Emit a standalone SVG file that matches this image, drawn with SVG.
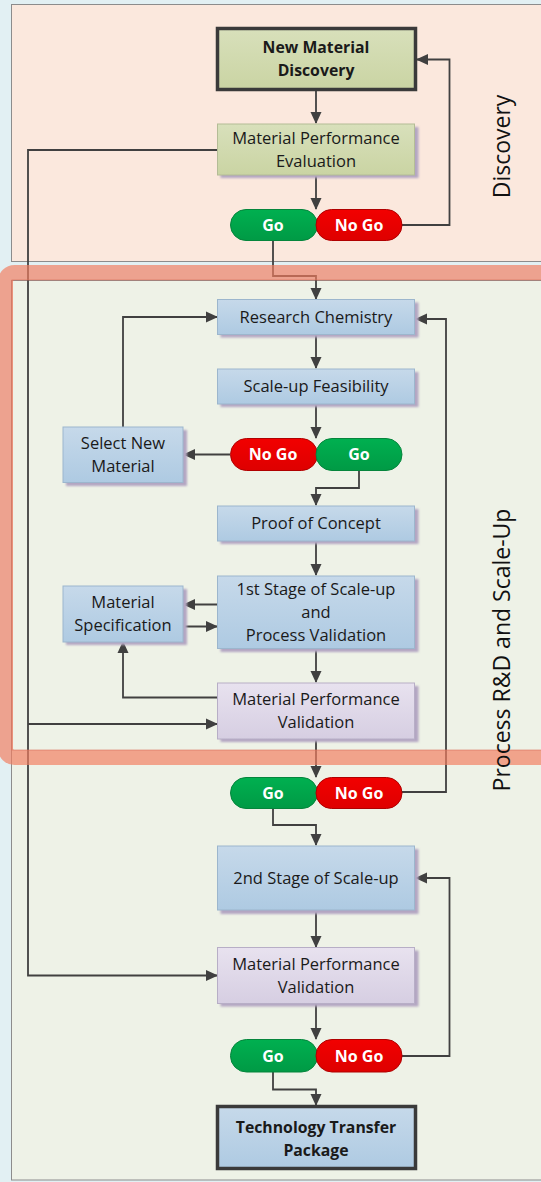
<svg xmlns="http://www.w3.org/2000/svg" width="541" height="1182" viewBox="0 0 541 1182">
<style>
.t{font-family:"Open Sans","Noto Sans","Liberation Sans",sans-serif;font-size:16.5px;fill:#1a1a1a;text-anchor:middle}
.b{font-weight:bold;font-size:15.8px}
.p{font-family:"Open Sans","Noto Sans","Liberation Sans",sans-serif;font-size:16px;font-weight:bold;fill:#ffffff;text-anchor:middle}
.lane{font-family:"Open Sans","Noto Sans","Liberation Sans",sans-serif;font-size:23px;fill:#111;text-anchor:middle}
.ca{fill:none;stroke:#404040;stroke-width:1.8;marker-end:url(#ah)}
.sh{fill:#b3a6c2}
</style>
<defs>
<marker id="ah" markerUnits="userSpaceOnUse" markerWidth="12" markerHeight="12" refX="11" refY="6" orient="auto">
<path d="M0,0.5 L12,6 L0,11.5 z" fill="#404040"/>
</marker>
<linearGradient id="gG" x1="0" y1="0" x2="0" y2="1"><stop offset="0" stop-color="#d8e0bb"/><stop offset="1" stop-color="#cad4a3"/></linearGradient>
<linearGradient id="gB" x1="0" y1="0" x2="0" y2="1"><stop offset="0" stop-color="#c6d9ea"/><stop offset="1" stop-color="#aecae2"/></linearGradient>
<linearGradient id="gP" x1="0" y1="0" x2="0" y2="1"><stop offset="0" stop-color="#e8e2ef"/><stop offset="1" stop-color="#d6cee2"/></linearGradient>
<linearGradient id="gGo" x1="0" y1="0" x2="0" y2="1"><stop offset="0" stop-color="#00b050"/><stop offset="1" stop-color="#009a45"/></linearGradient>
<linearGradient id="gNo" x1="0" y1="0" x2="0" y2="1"><stop offset="0" stop-color="#f20000"/><stop offset="1" stop-color="#de0000"/></linearGradient>
<filter id="blur" x="-10%" y="-10%" width="120%" height="130%"><feGaussianBlur stdDeviation="1"/></filter>
</defs>

<rect x="0" y="0" width="541" height="1182" fill="#e2f0f3"/>
<rect id="lane-discovery" x="11.5" y="4.5" width="560" height="257" fill="#fbe8dd" stroke="#8c8c8c" stroke-width="1"/>
<rect id="lane-process" x="11.5" y="280.5" width="560" height="899.5" fill="#eef2e7" stroke="#8c8c8c" stroke-width="1"/>

<g id="connectors">
<path class="ca" d="M316,91 V123"/>
<path class="ca" d="M316,176 V209"/>
<path class="ca" d="M402,225 H449.5 V59.5 H417"/>
<path class="ca" d="M273,241 V276 H316 V299"/>
<path class="ca" d="M217,150 H28 V975.5 H217"/>
<path class="ca" d="M28,724 H217"/>
<path class="ca" d="M316,334 V368"/>
<path class="ca" d="M316,404 V438"/>
<path class="ca" d="M230,454.5 H184"/>
<path class="ca" d="M123,427 V317 H217"/>
<path class="ca" d="M359,470 V488 H316 V505"/>
<path class="ca" d="M316,541 V575"/>
<path class="ca" d="M217,604.5 H184"/>
<path class="ca" d="M183,626.5 H217"/>
<path class="ca" d="M316,649 V682"/>
<path class="ca" d="M217,697.5 H123 V642"/>
<path class="ca" d="M316,739 V777"/>
<path class="ca" d="M402,792 H446 V319 H416"/>
<path class="ca" d="M273,808 V825 H316 V845"/>
<path class="ca" d="M316,910 V947"/>
<path class="ca" d="M316,1003 V1039"/>
<path class="ca" d="M402,1056 H449.5 V878 H416"/>
<path class="ca" d="M273,1072 V1089.5 H316 V1105"/>
</g>

<g id="n-new-material-discovery">
<rect x="217.5" y="28.5" width="198" height="61" fill="url(#gG)" stroke="#3a3a3a" stroke-width="3.5"/>
<text class="t b" x="316" y="53">New Material</text>
<text class="t b" x="316" y="76">Discovery</text>
</g>
<g id="n-material-performance-evaluation">
<rect class="sh" x="220.5" y="127" width="198" height="51" filter="url(#blur)"/>
<rect x="217.5" y="124" width="197" height="51" fill="url(#gG)" stroke="#b4bc96" stroke-width="1"/>
<text class="t" x="316" y="144">Material Performance</text>
<text class="t" x="316" y="167">Evaluation</text>
</g>
<g id="n-go-1">
<rect x="230.5" y="209.5" width="87" height="31" rx="15.5" fill="url(#gGo)" stroke="#05853c" stroke-width="1"/>
<text class="p" x="273" y="231">Go</text>
</g>
<g id="n-nogo-1">
<rect x="316" y="209.5" width="86" height="31" rx="15.5" fill="url(#gNo)" stroke="#b00000" stroke-width="1"/>
<text class="p" x="359" y="231">No Go</text>
</g>

<g id="n-research-chemistry">
<rect class="sh" x="220.5" y="302.5" width="198" height="35" filter="url(#blur)"/>
<rect x="217.5" y="299.5" width="197" height="35" fill="url(#gB)" stroke="#9cb6cd" stroke-width="1"/>
<text class="t" x="316" y="322.5">Research Chemistry</text>
</g>
<g id="n-scale-up-feasibility">
<rect class="sh" x="220.5" y="372" width="198" height="35" filter="url(#blur)"/>
<rect x="217.5" y="369" width="197" height="35" fill="url(#gB)" stroke="#9cb6cd" stroke-width="1"/>
<text class="t" x="316" y="392">Scale-up Feasibility</text>
</g>
<g id="n-nogo-2">
<rect x="230.5" y="438.5" width="87" height="32" rx="16" fill="url(#gNo)" stroke="#b00000" stroke-width="1"/>
<text class="p" x="273" y="460">No Go</text>
</g>
<g id="n-go-2">
<rect x="316" y="438.5" width="86" height="32" rx="16" fill="url(#gGo)" stroke="#05853c" stroke-width="1"/>
<text class="p" x="359" y="460">Go</text>
</g>
<g id="n-select-new-material">
<rect class="sh" x="66" y="430" width="121" height="56" filter="url(#blur)"/>
<rect x="63" y="427" width="120" height="55.5" fill="url(#gB)" stroke="#9cb6cd" stroke-width="1"/>
<text class="t" x="123" y="449">Select New</text>
<text class="t" x="123" y="472">Material</text>
</g>
<g id="n-proof-of-concept">
<rect class="sh" x="220.5" y="509" width="198" height="35" filter="url(#blur)"/>
<rect x="217.5" y="506" width="197" height="35" fill="url(#gB)" stroke="#9cb6cd" stroke-width="1"/>
<text class="t" x="316" y="529">Proof of Concept</text>
</g>
<g id="n-first-stage">
<rect class="sh" x="220.5" y="579" width="198" height="73" filter="url(#blur)"/>
<rect x="217.5" y="576" width="197" height="72.5" fill="url(#gB)" stroke="#9cb6cd" stroke-width="1"/>
<text class="t" x="316" y="595">1st Stage of Scale-up</text>
<text class="t" x="316" y="618">and</text>
<text class="t" x="316" y="641">Process Validation</text>
</g>
<g id="n-material-specification">
<rect class="sh" x="66" y="589" width="121" height="56" filter="url(#blur)"/>
<rect x="63" y="586" width="120" height="56" fill="url(#gB)" stroke="#9cb6cd" stroke-width="1"/>
<text class="t" x="123" y="607.5">Material</text>
<text class="t" x="123" y="631">Specification</text>
</g>
<g id="n-material-performance-validation-1">
<rect class="sh" x="220.5" y="686" width="198" height="56" filter="url(#blur)"/>
<rect x="217.5" y="683" width="197" height="56" fill="url(#gP)" stroke="#b7aec6" stroke-width="1"/>
<text class="t" x="316" y="705">Material Performance</text>
<text class="t" x="316" y="728">Validation</text>
</g>

<g id="band">
<rect x="5.5" y="272.5" width="600" height="485" rx="9" fill="none" stroke="#f27e60" stroke-opacity="0.68" stroke-width="15"/>
<rect x="12" y="280" width="600" height="470" fill="none" stroke="#d8705a" stroke-opacity="0.6" stroke-width="1"/>
</g>

<g id="n-go-3">
<rect x="230.5" y="777.5" width="87" height="31" rx="15.5" fill="url(#gGo)" stroke="#05853c" stroke-width="1"/>
<text class="p" x="273" y="798.5">Go</text>
</g>
<g id="n-nogo-3">
<rect x="316" y="777.5" width="86" height="31" rx="15.5" fill="url(#gNo)" stroke="#b00000" stroke-width="1"/>
<text class="p" x="359" y="798.5">No Go</text>
</g>
<g id="n-second-stage">
<rect class="sh" x="220.5" y="849" width="198" height="65" filter="url(#blur)"/>
<rect x="217.5" y="846" width="197" height="64" fill="url(#gB)" stroke="#9cb6cd" stroke-width="1"/>
<text class="t" x="316" y="884">2nd Stage of Scale-up</text>
</g>
<g id="n-material-performance-validation-2">
<rect class="sh" x="220.5" y="950.5" width="198" height="56" filter="url(#blur)"/>
<rect x="217.5" y="947.5" width="197" height="56" fill="url(#gP)" stroke="#b7aec6" stroke-width="1"/>
<text class="t" x="316" y="970">Material Performance</text>
<text class="t" x="316" y="993">Validation</text>
</g>
<g id="n-go-4">
<rect x="230.5" y="1039.5" width="87" height="32.5" rx="16" fill="url(#gGo)" stroke="#05853c" stroke-width="1"/>
<text class="p" x="273" y="1061.5">Go</text>
</g>
<g id="n-nogo-4">
<rect x="316" y="1039.5" width="86" height="32.5" rx="16" fill="url(#gNo)" stroke="#b00000" stroke-width="1"/>
<text class="p" x="359" y="1061.5">No Go</text>
</g>
<g id="n-technology-transfer-package">
<rect x="217.5" y="1106.5" width="198" height="62" fill="url(#gB)" stroke="#3a3a3a" stroke-width="3.5"/>
<text class="t b" x="316" y="1132.5">Technology Transfer</text>
<text class="t b" x="316" y="1155.5">Package</text>
</g>

<text class="lane" transform="translate(510,146.5) rotate(-90)">Discovery</text>
<text class="lane" transform="translate(510,650) rotate(-90)">Process R&amp;D and Scale-Up</text>
</svg>
